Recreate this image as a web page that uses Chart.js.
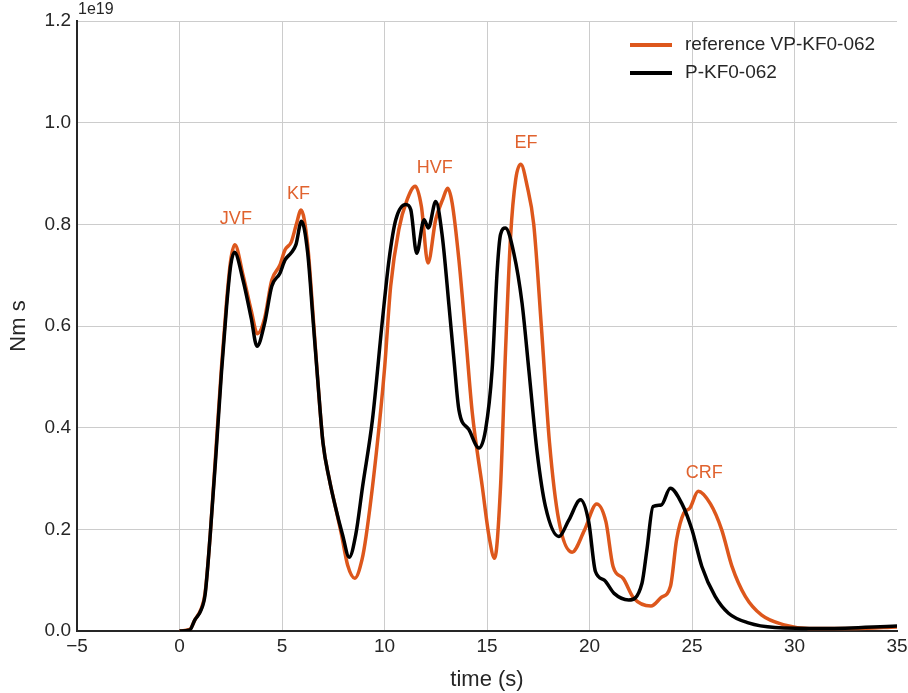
<!DOCTYPE html>
<html>
<head>
<meta charset="utf-8">
<script src="https://cdn.jsdelivr.net/npm/chart.js@4.4.1/dist/chart.umd.min.js"></script>
<style>
  html, body { margin: 0; padding: 0; background: #fff; }
  #wrap { width: 908px; height: 693px; }
</style>
</head>
<body>
<div id="wrap"><canvas id="chart" width="908" height="693"></canvas></div>
<script>
// ===============================
// DATA (values in units of 1e19 Nm s)
// ===============================
const refTime = [0, 0.5, 0.75, 1.05, 1.25, 1.5, 1.8, 2.05, 2.3, 2.5, 2.7, 3.1, 3.5, 3.8, 4.15, 4.5, 4.9, 5.15, 5.45, 5.7, 5.93, 6.25, 6.5, 6.75, 7.0, 7.3, 7.6, 7.9, 8.2, 8.55, 8.9, 9.1, 9.6, 10.0, 10.3, 10.7, 11.1, 11.5, 11.8, 12.12, 12.5, 12.85, 13.08, 13.3, 13.63, 13.96, 14.28, 14.77, 15.1, 15.37, 15.66, 15.9, 16.15, 16.4, 16.65, 16.96, 17.28, 17.65, 18.05, 18.5, 19.15, 19.75, 20.35, 20.8, 21.15, 21.65, 22.15, 23.0, 23.5, 23.95, 24.25, 24.6, 24.9, 25.3, 25.9, 26.45, 26.95, 27.6, 28.4, 29.5, 30.7, 33, 35];
const refValue = [0, 0.003, 0.022, 0.043, 0.075, 0.19, 0.37, 0.52, 0.65, 0.73, 0.76, 0.70, 0.63, 0.585, 0.615, 0.69, 0.72, 0.75, 0.765, 0.80, 0.828, 0.76, 0.63, 0.49, 0.37, 0.30, 0.245, 0.19, 0.13, 0.104, 0.14, 0.186, 0.35, 0.515, 0.678, 0.79, 0.848, 0.875, 0.835, 0.724, 0.81, 0.85, 0.871, 0.842, 0.73, 0.58, 0.43, 0.284, 0.186, 0.143, 0.284, 0.547, 0.776, 0.888, 0.918, 0.875, 0.80, 0.60, 0.37, 0.218, 0.155, 0.198, 0.25, 0.215, 0.127, 0.103, 0.065, 0.049, 0.066, 0.088, 0.18, 0.232, 0.242, 0.275, 0.25, 0.199, 0.127, 0.068, 0.031, 0.012, 0.005, 0.005, 0.008];

const pTime = [0, 0.5, 0.75, 1.05, 1.25, 1.5, 1.8, 2.05, 2.3, 2.5, 2.68, 3.1, 3.5, 3.78, 4.15, 4.5, 4.9, 5.15, 5.45, 5.68, 5.95, 6.25, 6.5, 6.75, 7.0, 7.3, 7.6, 7.95, 8.28, 8.6, 8.93, 9.41, 9.9, 10.22, 10.55, 11.04, 11.28, 11.57, 11.93, 12.14, 12.5, 12.82, 13.15, 13.39, 13.63, 14.12, 14.61, 14.93, 15.25, 15.5, 15.66, 15.9, 16.31, 16.71, 17.04, 17.45, 17.85, 18.5, 18.99, 19.56, 19.96, 20.29, 20.72, 21.2, 21.91, 22.56, 22.8, 23.1, 23.5, 23.94, 24.5, 25.0, 25.48, 26.13, 26.78, 27.75, 29.05, 31.5, 35];
const pValue = [0, 0.002, 0.022, 0.041, 0.072, 0.19, 0.36, 0.51, 0.64, 0.72, 0.745, 0.69, 0.615, 0.56, 0.605, 0.678, 0.704, 0.73, 0.744, 0.76, 0.806, 0.745, 0.62, 0.49, 0.37, 0.30, 0.245, 0.19, 0.145, 0.19, 0.284, 0.415, 0.612, 0.73, 0.809, 0.839, 0.829, 0.743, 0.809, 0.793, 0.845, 0.776, 0.638, 0.533, 0.435, 0.396, 0.36, 0.396, 0.514, 0.711, 0.78, 0.793, 0.743, 0.645, 0.514, 0.35, 0.245, 0.186, 0.218, 0.258, 0.215, 0.117, 0.10, 0.074, 0.061, 0.094, 0.16, 0.245, 0.248, 0.281, 0.251, 0.199, 0.127, 0.068, 0.035, 0.016, 0.007, 0.005, 0.01];

const peakNames = ["JVF", "KF", "HVF", "EF", "CRF"];
const peakTime = [2.75, 5.8, 12.45, 16.9, 25.6];
const peakValue = [0.81, 0.86, 0.91, 0.96, 0.31];

const xTicks = [-5, 0, 5, 10, 15, 20, 25, 30, 35];
const yTicks = [0, 0.2, 0.4, 0.6, 0.8, 1.0, 1.2];

const seriesNames = ["reference VP-KF0-062", "P-KF0-062"];

// ===============================
// STYLE
// ===============================
const ORANGE = "#dd571c";
const FONT = "'Liberation Sans', Arial, sans-serif";

function toPoints(xs, ys) {
  return xs.map((x, i) => ({ x: x, y: ys[i] }));
}

// ===============================
// EXTRA DRAWING: legend, labels, offset text
// ===============================
const extras = {
  id: "extras",
  afterDatasetsDraw(chart) {
    const ctx = chart.ctx;
    const xs = chart.scales.x;
    const ys = chart.scales.y;
    ctx.save();

    // peak labels
    ctx.fillStyle = "#e0622e";
    ctx.font = "18px " + FONT;
    ctx.textAlign = "center";
    ctx.textBaseline = "middle";
    peakNames.forEach((name, i) => {
      ctx.fillText(name, xs.getPixelForValue(peakTime[i]), ys.getPixelForValue(peakValue[i]));
    });

    // legend
    const colors = [ORANGE, "#000000"];
    ctx.font = "19px " + FONT;
    ctx.textAlign = "left";
    seriesNames.forEach((name, i) => {
      const y = 45 + i * 28;
      ctx.strokeStyle = colors[i];
      ctx.lineWidth = 4;
      ctx.lineCap = "butt";
      ctx.beginPath();
      ctx.moveTo(630, y);
      ctx.lineTo(672, y);
      ctx.stroke();
      ctx.fillStyle = "#262626";
      ctx.fillText(name, 685, y);
    });

    // offset text
    ctx.font = "16px " + FONT;
    ctx.fillStyle = "#262626";
    ctx.textBaseline = "middle";
    ctx.fillText("1e19", 78, 10);

    ctx.restore();
  }
};

// ===============================
// CHART
// ===============================
new Chart(document.getElementById("chart"), {
  type: "scatter",
  data: {
    datasets: [
      {
        label: seriesNames[0],
        data: toPoints(refTime, refValue),
        showLine: true,
        borderColor: ORANGE,
        borderWidth: 3.5,
        pointRadius: 0,
        cubicInterpolationMode: "monotone",
        order: 1
      },
      {
        label: seriesNames[1],
        data: toPoints(pTime, pValue),
        showLine: true,
        borderColor: "#000000",
        borderWidth: 3.5,
        pointRadius: 0,
        cubicInterpolationMode: "monotone",
        order: 0
      }
    ]
  },
  options: {
    responsive: false,
    animation: false,
    layout: { padding: { top: 21, right: 11, left: 0, bottom: 0 } },
    plugins: {
      legend: { display: false },
      tooltip: { enabled: false }
    },
    scales: {
      x: {
        type: "linear",
        min: -5,
        max: 35,
        afterBuildTicks(scale) {
          scale.ticks = xTicks.map(v => ({ value: v }));
        },
        afterFit(scale) {
          scale.height = 62;
          scale.paddingRight = 0;
          scale.paddingLeft = 0;
        },
        ticks: {
          padding: 4,
          color: "#262626",
          font: { family: FONT, size: 19 },
          callback: v => (v < 0 ? "\u2212" + Math.abs(v) : String(v))
        },
        grid: {
          drawTicks: false,
          color: ctx => (ctx.tick && ctx.tick.value === 35 ? "rgba(0,0,0,0)" : "#cccccc"),
          lineWidth: 1
        },
        border: { color: "#262626", width: 2 },
        title: {
          display: true,
          text: "time (s)",
          color: "#262626",
          font: { family: FONT, size: 22 },
          padding: { top: 0, bottom: 0 }
        }
      },
      y: {
        type: "linear",
        min: 0,
        max: 1.2,
        afterBuildTicks(scale) {
          scale.ticks = yTicks.map(v => ({ value: v }));
        },
        afterFit(scale) { scale.width = 77; },
        ticks: {
          padding: 6,
          color: "#262626",
          font: { family: FONT, size: 19 },
          callback: v => v.toFixed(1)
        },
        grid: {
          drawTicks: false,
          color: "#cccccc",
          lineWidth: 1
        },
        border: { color: "#262626", width: 2 },
        title: {
          display: true,
          text: "Nm s",
          color: "#262626",
          font: { family: FONT, size: 22 },
          padding: { top: 6, bottom: 0 }
        }
      }
    }
  },
  plugins: [extras]
});
</script>
</body>
</html>
